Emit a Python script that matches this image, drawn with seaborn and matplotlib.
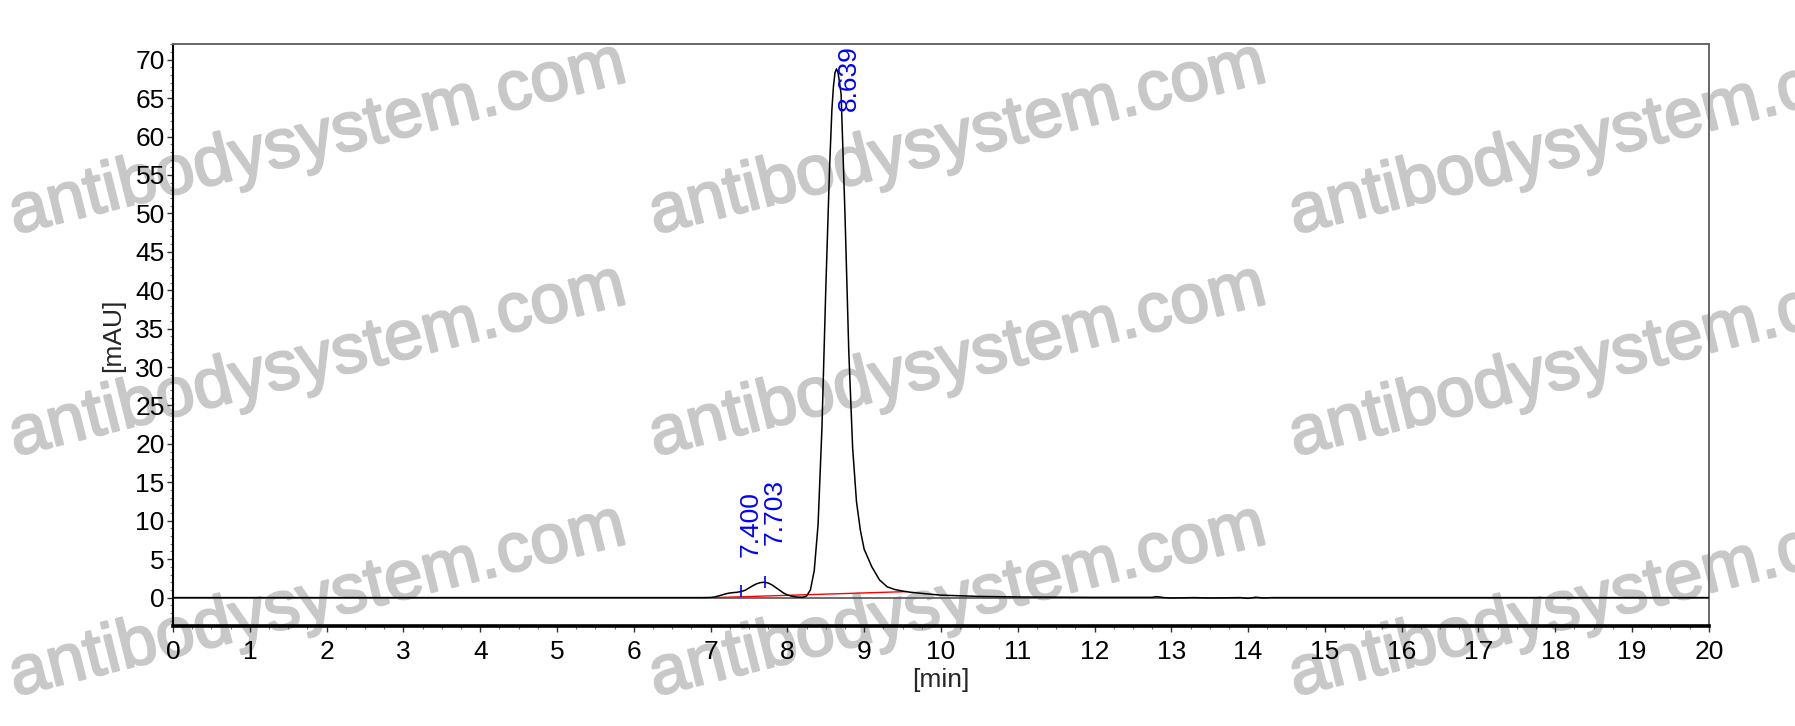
import numpy as np
import pandas as pd
import matplotlib
matplotlib.use('Agg')
import matplotlib.pyplot as plt
import matplotlib.patheffects as pe
from matplotlib.ticker import MultipleLocator
import seaborn as sns

# chromatogram: retention time [min] and signal [mAU]
time_min = [0.0, 6.9, 7.0, 7.05, 7.1, 7.15, 7.2, 7.25, 7.3, 7.35, 7.4, 7.45, 7.5, 7.55,
            7.6, 7.65, 7.7, 7.75, 7.8, 7.85, 7.9, 7.95, 8.0, 8.05, 8.1, 8.15, 8.2, 8.25,
            8.3, 8.35, 8.4, 8.45, 8.5, 8.55, 8.58, 8.6, 8.62, 8.64, 8.66, 8.68, 8.7, 8.75,
            8.8, 8.85, 8.9, 8.95, 9.0, 9.1, 9.2, 9.3, 9.4, 9.5, 9.6, 9.8, 10.0, 10.5,
            11.0, 12.0, 12.75, 12.8, 12.85, 12.9, 13.0, 13.3, 13.5, 13.9, 14.0, 14.1,
            14.2, 14.3, 20.0]
signal_mau = [0.0, 0.0, 0.02, 0.08, 0.2, 0.35, 0.5, 0.6, 0.65, 0.7, 0.8, 0.95, 1.25, 1.55,
              1.8, 1.95, 2.0, 1.9, 1.65, 1.3, 0.95, 0.6, 0.35, 0.2, 0.1, 0.06, 0.05, 0.2,
              1.0, 3.5, 9.5, 22.0, 40.0, 56.0, 63.5, 66.5, 68.3, 68.8, 68.3, 67.0, 65.5, 50.0,
              32.0, 19.5, 12.5, 8.8, 6.3, 4.0, 2.3, 1.4, 1.05, 0.85, 0.7, 0.5, 0.32, 0.15,
              0.08, 0.03, 0.03, 0.12, 0.08, 0.0, -0.05, 0.0, -0.05, 0.0, -0.1, 0.05,
              -0.05, 0.0, 0.0]

# integration baseline (red) and peak annotations
baseline_t = [7.06, 9.55]
baseline_y = [0.0, 0.78]
peak_t = [7.400, 7.703, 8.639]
peak_y = [0.8, 2.0, 68.8]
peak_labels = ['7.400', '7.703', '8.639']
label_pos = [(7.37, 5.3), (7.68, 6.8), (8.65, 63.3)]

df = pd.DataFrame({'time': time_min, 'mAU': signal_mau})

sns.set_theme(style='white')
plt.rcParams['font.family'] = ['Liberation Sans', 'DejaVu Sans']

fig = plt.figure(figsize=(17.95, 7.26), dpi=100)
ax = fig.add_axes([0.0964, 0.1377, 0.952 - 0.0964, 0.939 - 0.1377])
ax.patch.set_alpha(0)

ax.axhline(0, color='#555555', linewidth=1.2, zorder=1)
sns.lineplot(data=df, x='time', y='mAU', color='black', linewidth=1.1, ax=ax, zorder=3)
ax.plot(baseline_t, baseline_y, color='red', linewidth=1.0, zorder=2)
ax.plot(peak_t[:2], peak_y[:2], linestyle='none', marker='|', markersize=9,
        color='blue', markeredgewidth=1.2, zorder=4)

for lab, (x, y) in zip(peak_labels, label_pos):
    ax.text(x, y, lab, rotation=90, color='blue', fontsize=19,
            ha='left', va='bottom', zorder=5)

ax.set_xlim(0, 20)
ax.xaxis.set_major_locator(MultipleLocator(1))
ax.xaxis.set_minor_locator(MultipleLocator(0.25))
ax.yaxis.set_minor_locator(MultipleLocator(1))
ax.set_yticks(np.arange(0, 71, 5))
ax.set_ylim(-3.7, 72)

ax.tick_params(axis='both', which='major', direction='out', length=4, width=1,
               color='#333333', labelsize=19, labelcolor='black')
ax.tick_params(axis='both', which='minor', direction='out', length=2.5, width=0.8,
               color='#777777')
ax.tick_params(axis='x', which='major', pad=6)
ax.tick_params(axis='y', which='major', pad=2)
ax.tick_params(axis='both', which='both', bottom=True, left=True)

ax.set_xlabel('[min]', fontsize=19)
ax.set_ylabel('[mAU]', fontsize=19)
ax.xaxis.set_label_coords(0.5, -0.072)
ax.yaxis.set_label_coords(-0.031, 0.5)
ax.xaxis.label.set_va('top')

for side in ['top', 'right']:
    ax.spines[side].set_color('#666666')
    ax.spines[side].set_linewidth(1.4)
ax.spines['left'].set_color('black')
ax.spines['left'].set_linewidth(1.5)
ax.spines['bottom'].set_color('black')
ax.spines['bottom'].set_linewidth(2.6)

# watermark grid, drawn behind the plot
wm_cols = [318, 958, 1598]
wm_rows = [140, 362, 602]
W, H = 1795, 726
for cx in wm_cols:
    for cy in wm_rows:
        fig.text(cx / W, 1 - cy / H, 'antibodysystem.com', fontsize=50,
                 color='#c8c8c8', rotation=14, rotation_mode='anchor',
                 ha='center', va='center', zorder=-1,
                 path_effects=[pe.withStroke(linewidth=1.6, foreground='#c8c8c8')])

fig.savefig('out.png', dpi=100, facecolor='white')
